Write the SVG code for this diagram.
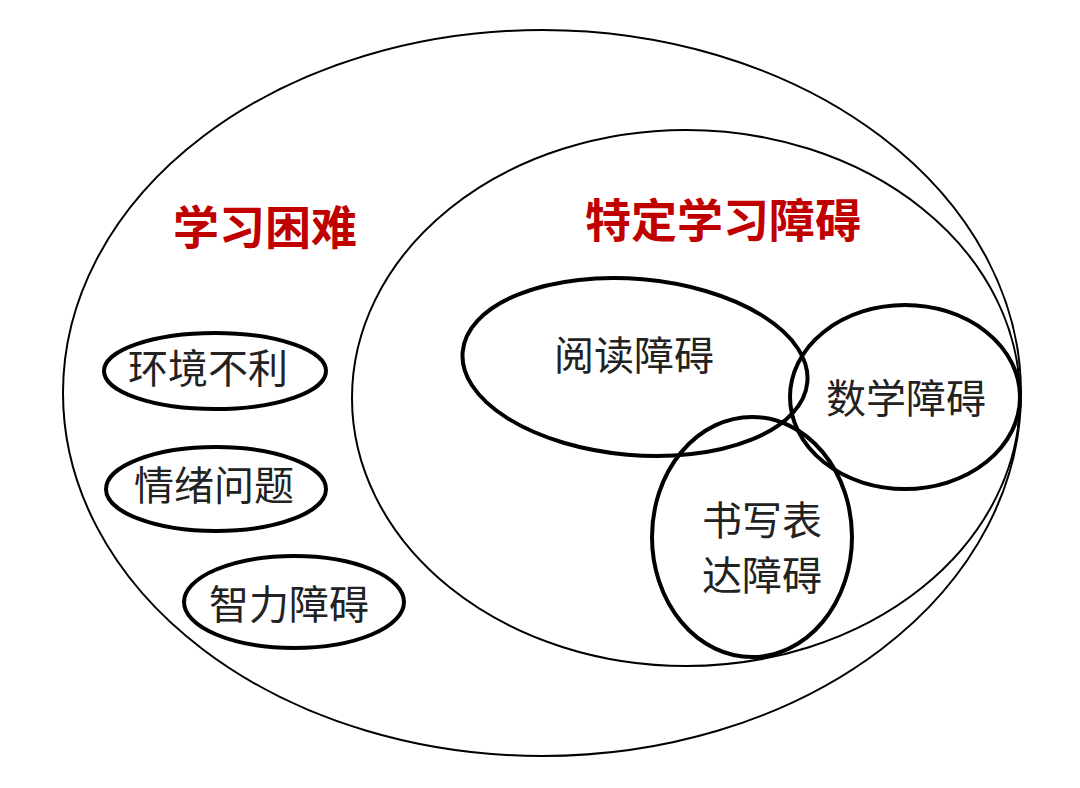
<svg xmlns="http://www.w3.org/2000/svg" width="1080" height="788" viewBox="0 0 1080 788">
<style>
.thin{fill:none;stroke:#000;stroke-width:2}
.thick{fill:none;stroke:#000;stroke-width:4}
.t{font-family:"Noto Sans CJK SC",sans-serif;font-size:40px;fill:#222;text-anchor:middle;dominant-baseline:central}
.r{font-family:"Noto Sans CJK SC",sans-serif;font-size:46px;fill:#c00000;text-anchor:middle;dominant-baseline:central;font-weight:bold}
</style>
<rect width="1080" height="788" fill="#fff"/>
<g id="outer"><ellipse class="thin" cx="542" cy="393" rx="479" ry="363"/><text class="r" x="265" y="224">学习困难</text></g>
<g id="inner"><ellipse class="thin" cx="686" cy="398" rx="334" ry="268"/><text class="r" x="723" y="217">特定学习障碍</text></g>
<g id="reading"><ellipse class="thick" cx="635" cy="367" rx="173" ry="88" transform="rotate(5 635 367)"/><text class="t" x="634" y="353">阅读障碍</text></g>
<g id="math"><ellipse class="thick" cx="905" cy="397" rx="115" ry="92"/><text class="t" x="906" y="396">数学障碍</text></g>
<g id="writing"><ellipse class="thick" cx="752" cy="537" rx="100" ry="120"/><text class="t" x="762" y="518">书写表</text><text class="t" x="762" y="573">达障碍</text></g>
<g id="env"><ellipse class="thick" cx="215" cy="371" rx="111" ry="38"/><text class="t" x="208" y="366">环境不利</text></g>
<g id="emo"><ellipse class="thick" cx="216" cy="489" rx="110" ry="42"/><text class="t" x="214" y="483">情绪问题</text></g>
<g id="iq"><ellipse class="thick" cx="294" cy="602" rx="110" ry="46"/><text class="t" x="289" y="602">智力障碍</text></g>
<g id="connectors"/>
</svg>
